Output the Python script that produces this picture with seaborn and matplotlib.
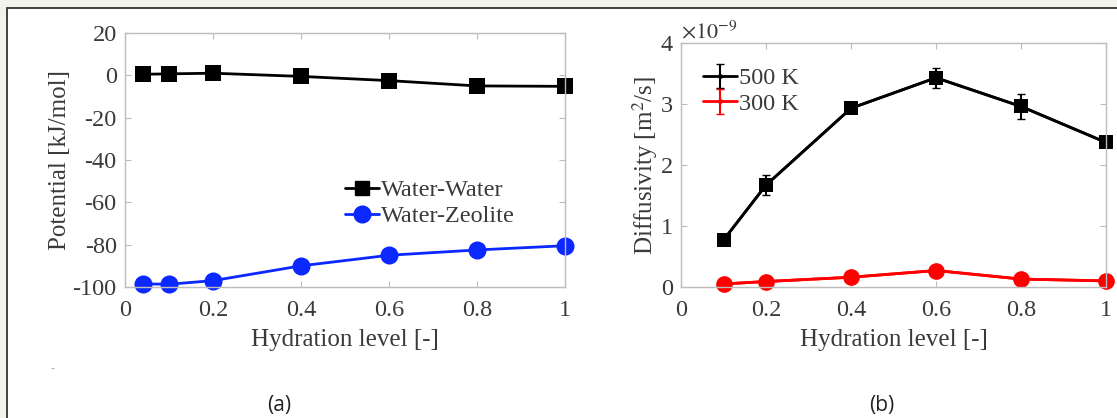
import numpy as np
import pandas as pd
import matplotlib
matplotlib.use("Agg")
import matplotlib.pyplot as plt
import seaborn as sns
from matplotlib.lines import Line2D
from matplotlib.patches import Rectangle

# ---- data ----
hyd_a = [0.04, 0.1, 0.2, 0.4, 0.6, 0.8, 1.0]
water_water = [0.5, 0.7, 1.0, -0.5, -2.5, -5.0, -5.2]
water_zeolite = [-98.5, -98.7, -97.0, -90.0, -85.0, -82.5, -80.5]

hyd_b = [0.1, 0.2, 0.4, 0.6, 0.8, 1.0]
d500 = [0.77e-9, 1.67e-9, 2.93e-9, 3.43e-9, 2.96e-9, 2.37e-9]
d500_err = [0.03e-9, 0.16e-9, 0.03e-9, 0.16e-9, 0.20e-9, 0.03e-9]
d300 = [0.05e-9, 0.09e-9, 0.16e-9, 0.27e-9, 0.13e-9, 0.10e-9]
d300_err = [0.02e-9, 0.02e-9, 0.02e-9, 0.03e-9, 0.02e-9, 0.02e-9]

xticks = [0, 0.2, 0.4, 0.6, 0.8, 1]
xticklabels = ["0", "0.2", "0.4", "0.6", "0.8", "1"]
yticks_a = [20, 0, -20, -40, -60, -80, -100]
yticks_b = [0, 1e-9, 2e-9, 3e-9, 4e-9]

sns.set_theme(style="white")
plt.rcParams['font.family'] = ['Liberation Serif', 'DejaVu Serif']
plt.rcParams['mathtext.fontset'] = 'stix'

TXT = '#3a3a3a'
SPINE = '#bcbcbc'

fig = plt.figure(figsize=(11.17, 4.18), dpi=100)
fig.patch.set_facecolor('#f3f3ee')
# white panel with dark frame
fig.patches.append(Rectangle((7/1117, -0.05), 1.2, 1 - 8/418 + 0.05, transform=fig.transFigure,
                             facecolor='white', edgecolor='#333333', linewidth=1.3, zorder=-10))

ax1 = fig.add_axes([125/1117, 1 - 287/418, 440/1117, 254/418])
ax2 = fig.add_axes([681/1117, 1 - 287/418, 425/1117, 244/418])

def style(ax):
    ax.set_facecolor('white')
    for s in ax.spines.values():
        s.set_color(SPINE)
        s.set_linewidth(1.0)
    ax.tick_params(direction='in', length=4, width=0.8, color=SPINE, labelcolor=TXT,
                   labelsize=17.5, top=True, right=True, bottom=True, left=True)
    ax.tick_params(axis='x', pad=9)
    ax.tick_params(axis='y', pad=6)
    ax.set_xlim(0, 1)
    ax.set_xticks(xticks)
    ax.set_xticklabels(xticklabels)
    ax.set_xlabel("Hydration level [-]", fontsize=18, color=TXT, labelpad=6)

# ---- panel (a) ----
df_a = pd.DataFrame({'h': hyd_a * 2,
                     'v': water_water + water_zeolite,
                     's': ['Water-Water'] * len(hyd_a) + ['Water-Zeolite'] * len(hyd_a)})
sns.lineplot(data=df_a, x='h', y='v', hue='s', style='s',
             palette={'Water-Water': 'black', 'Water-Zeolite': '#0a28ff'},
             markers={'Water-Water': 's', 'Water-Zeolite': 'o'},
             dashes=False, linewidth=2, markersize=11, markeredgewidth=0,
             ax=ax1, legend=False, clip_on=False)
ax1.lines[1].set_markersize(13)
style(ax1)
ax1.set_ylim(-100, 20)
ax1.set_yticks(yticks_a)
ax1.set_yticklabels([str(t) for t in yticks_a])
ax1.set_ylabel("Potential [kJ/mol]", fontsize=18, color=TXT, labelpad=1)
h_a = [Line2D([], [], color='black', marker='s', markersize=10, linewidth=2),
       Line2D([], [], color='#0a28ff', marker='o', markersize=12, linewidth=2)]
ax1.legend(h_a, ['Water-Water', 'Water-Zeolite'], frameon=False, fontsize=17.5,
           loc='upper left', bbox_to_anchor=(0.45, 0.51), handlelength=1.4,
           handletextpad=0.1, labelspacing=0.15, labelcolor=TXT)

# ---- panel (b) ----
ax2.errorbar(hyd_b, d500, yerr=d500_err, fmt='.-', color='black', capsize=3,
             linewidth=2, elinewidth=1.5, markersize=5, label='500 K', clip_on=False)
ax2.errorbar(hyd_b, d300, yerr=d300_err, fmt='.-', color='#ff0000', capsize=3,
             linewidth=2, elinewidth=1.5, markersize=5, label='300 K', clip_on=False)
df_b = pd.DataFrame({'h': hyd_b * 2, 'v': d500 + d300,
                     's': ['500 K'] * len(hyd_b) + ['300 K'] * len(hyd_b)})
sns.lineplot(data=df_b, x='h', y='v', hue='s', style='s',
             palette={'500 K': 'black', '300 K': '#ff0000'},
             markers={'500 K': 's', '300 K': 'o'}, dashes=False,
             linewidth=2, markersize=10, markeredgewidth=0, ax=ax2, legend=False,
             clip_on=False)
ax2.lines[-1].set_markersize(12)
style(ax2)
ax2.set_ylim(0, 4e-9)
ax2.set_yticks(yticks_b)
ax2.set_yticklabels(["0", "1", "2", "3", "4"])
ax2.text(0.0, 1.0, r"$\times10^{-9}$", transform=ax2.transAxes, fontsize=16,
         color=TXT, ha='left', va='bottom')
ax2.set_ylabel(r"Diffusivity [m$^2$/s]", fontsize=18, color=TXT, labelpad=0)
ax2.legend(frameon=False, fontsize=17.5, loc='upper left', bbox_to_anchor=(0.0, 0.99),
           handlelength=1.4, handletextpad=0.1, labelspacing=0.15, labelcolor=TXT)

fig.text(279/1117, 1 - 405/418, "(a)", fontsize=15, family='Open Sans', color='#222222',
         ha='center', va='center')
fig.text(882/1117, 1 - 405/418, "(b)", fontsize=15, family='Open Sans', color='#222222',
         ha='center', va='center')
fig.text(52/1117, 1 - 368/418, "-", fontsize=8, family='DejaVu Sans', color='#999999',
         ha='center', va='center')

fig.savefig("out.png", dpi=100, facecolor=fig.get_facecolor())
